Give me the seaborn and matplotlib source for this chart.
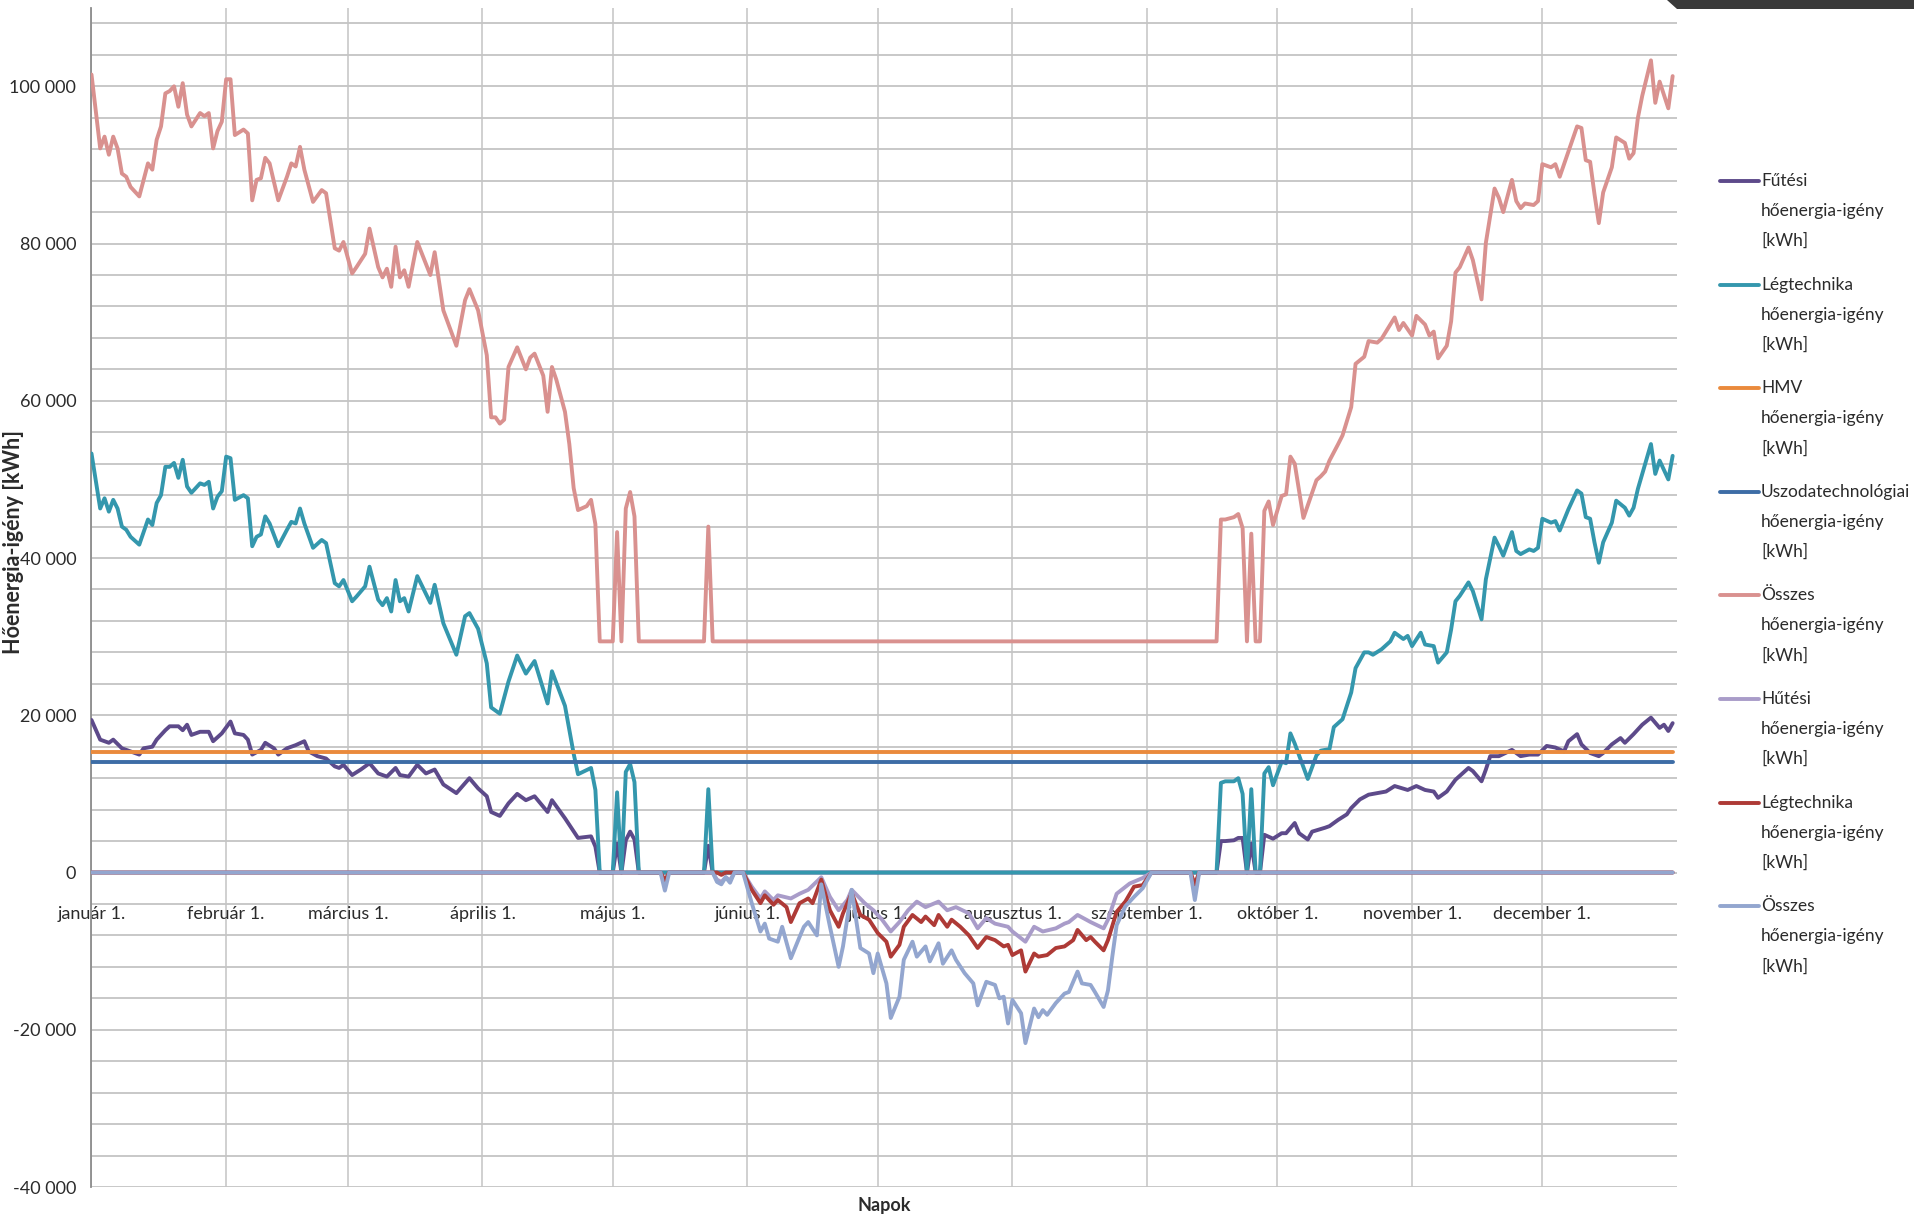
import matplotlib
matplotlib.use("Agg")
import matplotlib.pyplot as plt
from matplotlib.lines import Line2D
from matplotlib.patches import Polygon
import numpy as np
import pandas as pd
import seaborn as sns

# ---------------------------------------------------------------- data
# days of the year (0 = január 1.) and daily heat demand values [kWh]

futes_days = [0, 2, 3, 4, 5, 7, 9, 11, 12, 14, 15, 17, 18, 20, 21, 22, 23, 25, 26, 27,
              28, 30, 32, 33, 35, 36, 37, 39, 40, 42, 43, 45, 47, 49, 50, 52, 54, 56, 57, 58,
              60, 62, 64, 66, 68, 70, 71, 73, 75, 77, 79, 81, 84, 87, 89, 91, 92, 94, 96, 98,
              100, 102, 105, 106, 109, 112, 115, 116, 117, 120, 121, 122, 123, 124, 125, 126,
              141, 142, 143, 259, 260, 261, 263, 264, 265, 266, 267, 268, 269, 270, 272, 274,
              275, 277, 278, 280, 281, 284, 285, 287, 289, 290, 292, 294, 296, 298, 300, 303,
              305, 307, 309, 310, 312, 314, 317, 318, 320, 321, 322, 324, 327, 329, 331, 333,
              335, 337, 339, 340, 342, 343, 345, 347, 348, 350, 352, 353, 355, 357, 359, 361,
              362, 363, 364]
futes_vals = [19400, 16900, 16700, 16500, 16900, 15800, 15400, 15000, 15800, 16000, 16900,
              18100, 18600, 18600, 18100, 18800, 17500, 17900, 17900, 17900, 16700, 17700,
              19200, 17700, 17500, 16900, 15000, 15600, 16500, 15800, 15000, 15800, 16200,
              16700, 15400, 14800, 14500, 13500, 13300, 13700, 12400, 13100, 13900, 12600,
              12200, 13300, 12400, 12200, 13700, 12600, 13100, 11200, 10100, 12000, 10700,
              9700, 7700, 7200, 8800, 10000, 9200, 9700, 7700, 9200, 6900, 4400, 4600, 3300,
              0, 0, 3700, 0, 4100, 5200, 4200, 0, 0, 3400, 0, 0, 4000, 4000, 4100, 4400, 4400,
              0, 3700, 0, 0, 4800, 4300, 5000, 5000, 6300, 5000, 4200, 5200, 5700, 5900, 6700,
              7400, 8200, 9300, 9900, 10100, 10300, 11000, 10500, 11000, 10500, 10300, 9500,
              10300, 11800, 13300, 12900, 11600, 13100, 14800, 14800, 15600, 14800, 15000,
              15000, 16100, 15900, 15400, 16700, 17600, 16300, 15200, 14800, 15200, 16300,
              17100, 16500, 17600, 18800, 19700, 18400, 18800, 18000, 19000]

legt_days = [0, 2, 3, 4, 5, 6, 7, 8, 9, 11, 13, 14, 15, 16, 17, 18, 19, 20, 21, 22, 23, 25,
             26, 27, 28, 29, 30, 31, 32, 33, 35, 36, 37, 38, 39, 40, 41, 43, 45, 46, 47, 48,
             49, 51, 53, 54, 56, 57, 58, 60, 61, 63, 64, 66, 67, 68, 69, 70, 71, 72, 73, 75,
             78, 79, 81, 84, 86, 87, 89, 91, 92, 94, 96, 98, 100, 102, 105, 106, 109, 111,
             112, 115, 116, 117, 120, 121, 122, 123, 124, 125, 126, 141, 142, 143, 259, 260,
             261, 263, 264, 265, 266, 267, 268, 269, 270, 271, 272, 274, 275, 276, 277, 280,
             282, 283, 285, 286, 288, 290, 291, 293, 294, 295, 297, 299, 300, 302, 303, 304,
             306, 307, 309, 310, 312, 313, 314, 315, 317, 318, 320, 321, 323, 324, 325, 327,
             328, 329, 331, 332, 333, 334, 336, 337, 338, 340, 342, 343, 344, 345, 346, 347,
             348, 350, 351, 353, 354, 355, 356, 357, 359, 360, 361, 363, 364]
legt_vals = [53300, 46300, 47600, 45900, 47400, 46300, 44000, 43600, 42700, 41700, 44900,
             44200, 47000, 48000, 51600, 51600, 52100, 50200, 52500, 49100, 48300, 49500,
             49300, 49700, 46300, 47800, 48500, 52900, 52700, 47400, 48000, 47600, 41500,
             42700, 43000, 45300, 44400, 41500, 43600, 44600, 44400, 46300, 44400, 41300,
             42300, 41900, 36800, 36400, 37200, 34500, 35100, 36400, 38900, 34700, 34000,
             34900, 33200, 37200, 34500, 34900, 33200, 37700, 34300, 36600, 31700, 27700,
             32600, 33000, 31000, 26600, 21000, 20200, 24300, 27600, 25300, 26900, 21500,
             25600, 21200, 15100, 12500, 13300, 10500, 0, 0, 10200, 0, 12800, 13800, 11500,
             0, 0, 10600, 0, 0, 11400, 11600, 11600, 12000, 10000, 0, 10600, 0, 0, 12600,
             13400, 11100, 14100, 13900, 17700, 16400, 11900, 14900, 15500, 15700, 18500,
             19500, 22900, 26000, 28000, 28000, 27700, 28400, 29400, 30500, 29700, 30100,
             28800, 30500, 29000, 28800, 26700, 28000, 30900, 34500, 35200, 36900, 35800,
             32200, 37300, 42600, 41500, 40300, 43300, 40900, 40500, 41100, 40900, 41300,
             45000, 44500, 44700, 43500, 46200, 48600, 48200, 45200, 45000, 42000, 39400,
             42000, 44500, 47300, 46400, 45400, 46400, 48800, 50700, 54500, 50700, 52400,
             50000, 53000]

hmv_days = [0, 364]
hmv_vals = [15300, 15300]

uszoda_days = [0, 364]
uszoda_vals = [14100, 14100]

osszes_days = [0, 2, 3, 4, 5, 6, 7, 8, 9, 11, 13, 14, 15, 16, 17, 18, 19, 20, 21, 22, 23,
               25, 26, 27, 28, 29, 30, 31, 32, 33, 35, 36, 37, 38, 39, 40, 41, 43, 45, 46,
               47, 48, 49, 51, 53, 54, 56, 57, 58, 60, 61, 63, 64, 66, 67, 68, 69, 70, 71,
               72, 73, 75, 78, 79, 81, 84, 86, 87, 89, 91, 92, 93, 94, 95, 96, 98, 100, 101,
               102, 104, 105, 106, 107, 109, 110, 111, 112, 114, 115, 116, 117, 120, 121,
               122, 123, 124, 125, 126, 141, 142, 143, 259, 260, 261, 263, 264, 265, 266,
               267, 268, 269, 270, 271, 272, 274, 275, 276, 277, 279, 282, 283, 284, 285,
               287, 288, 290, 291, 293, 294, 296, 297, 298, 300, 301, 302, 304, 305, 307,
               308, 309, 310, 312, 313, 314, 315, 317, 318, 320, 321, 323, 324, 325, 327,
               328, 329, 330, 332, 333, 334, 336, 337, 338, 340, 342, 343, 344, 345, 346,
               347, 348, 350, 351, 353, 354, 355, 356, 357, 359, 360, 361, 363, 364]
osszes_vals = [101500, 92100, 93600, 91300, 93600, 92100, 88900, 88500, 87200, 86000,
               90200, 89400, 93200, 94900, 99100, 99400, 100000, 97400, 100400, 96400, 94900,
               96600, 96200, 96600, 92100, 94300, 95500, 100900, 100900, 93800, 94500, 94000,
               85500, 88100, 88300, 90900, 90200, 85500, 88500, 90200, 89800, 92300, 89400,
               85300, 86800, 86400, 79400, 79100, 80200, 76200, 77000, 78700, 81900, 77000,
               75700, 76800, 74500, 79600, 75700, 76600, 74500, 80200, 76000, 78900, 71500,
               67000, 72800, 74200, 71500, 65800, 57900, 57900, 57100, 57600, 64300, 66800,
               64000, 65500, 66000, 63200, 58600, 64300, 62700, 58600, 54500, 48900, 46100,
               46600, 47400, 44300, 29400, 29400, 43300, 29400, 46300, 48400, 45300, 29400,
               29400, 44000, 29400, 29400, 44900, 44900, 45200, 45600, 43800, 29400, 43100,
               29400, 29400, 46000, 47200, 44200, 47900, 48100, 52900, 52000, 45100, 49900,
               50400, 51000, 52400, 54500, 55600, 59200, 64700, 65600, 67600, 67400, 67900,
               68800, 70600, 69000, 69900, 68300, 70800, 69700, 68300, 68800, 65400, 67000,
               70100, 76300, 77000, 79500, 77900, 72900, 80100, 87000, 85800, 84000, 88100,
               85400, 84500, 85100, 84900, 85400, 90100, 89700, 90100, 88500, 91700, 94900,
               94700, 90600, 90400, 86300, 82600, 86500, 89700, 93500, 92800, 90800, 91500,
               96000, 98800, 103300, 97900, 100600, 97200, 101300]

hutes_days = [0, 131, 132, 133, 143, 144, 145, 146, 147, 148, 150, 152, 154, 155, 157, 158,
              161, 163, 165, 168, 170, 172, 174, 175, 178, 180, 182, 184, 186, 188, 190, 192,
              195, 197, 199, 202, 204, 206, 208, 211, 212, 215, 217, 219, 222, 224, 225, 227,
              230, 233, 234, 236, 239, 242, 244, 253, 254, 255, 364]
hutes_vals = [0, 0, -1200, 0, 0, -900, -1200, -600, -1000, 0, 0, -1800, -3300, -2400, -3500,
              -2900, -3300, -2700, -2200, -600, -3100, -4800, -3500, -2200, -3900, -4800,
              -6000, -7500, -6300, -4800, -3700, -4400, -3700, -4800, -4400, -5200, -7100,
              -5800, -6500, -6900, -7500, -8800, -6900, -7500, -7100, -6500, -6300, -5400,
              -6300, -7100, -6000, -2700, -1400, -700, 0, 0, -2000, 0, 0]

legt_hut_days = [0, 131, 132, 133, 144, 145, 146, 150, 152, 154, 155, 157, 158, 160, 161, 163,
                 165, 166, 168, 170, 172, 173, 175, 177, 179, 181, 183, 184, 186, 187, 189,
                 191, 192, 194, 195, 197, 198, 200, 202, 204, 206, 208, 210, 211, 212, 214,
                 215, 217, 218, 220, 222, 224, 226, 227, 229, 230, 231, 233, 234, 236, 238,
                 240, 242, 244, 253, 254, 255, 364]
legt_hut_vals = [0, 0, -1000, 0, 0, -300, 0, 0, -2200, -3900, -2900, -4100, -3500, -4400,
                 -6300, -3900, -3300, -3900, -900, -4800, -6900, -5200, -2600, -5400, -6000,
                 -7700, -8800, -10700, -9200, -6900, -5400, -6300, -5600, -6700, -5400, -6900,
                 -6000, -6900, -8000, -9600, -8200, -8600, -9400, -9200, -10500, -9900,
                 -12600, -10300, -10700, -10500, -9600, -9400, -8600, -7300, -8600, -8200,
                 -8800, -9900, -8600, -5000, -3700, -1800, -1600, 0, 0, -1500, 0, 0]

osszes_hut_days = [0, 131, 132, 133, 143, 144, 145, 146, 147, 148, 150, 152, 154, 155, 156,
                   158, 159, 161, 163, 164, 165, 167, 168, 170, 172, 173, 175, 177, 179, 180,
                   181, 183, 184, 186, 187, 189, 190, 192, 193, 195, 196, 198, 199, 201, 203,
                   204, 206, 208, 209, 210, 211, 212, 214, 215, 217, 218, 219, 220, 222, 224,
                   225, 227, 228, 230, 231, 233, 234, 235, 236, 238, 240, 242, 244, 253, 254,
                   255, 364]
osszes_hut_vals = [0, 0, -2300, 0, 0, -1200, -1500, -600, -1300, 0, 0, -3900, -7500, -6500,
                   -8400, -8800, -6900, -10900, -8200, -6900, -6300, -8000, -1500, -6900,
                   -12000, -9400, -2200, -9600, -10300, -12800, -10300, -14100, -18500,
                   -15800, -11100, -8800, -10700, -9400, -11300, -9000, -11600, -9900,
                   -11100, -12800, -14100, -16900, -13900, -14300, -16000, -15800, -19200,
                   -16200, -17900, -21700, -17300, -18400, -17500, -18100, -16600, -15400,
                   -15200, -12600, -14100, -14300, -15200, -17100, -15000, -10700, -6700,
                   -4300, -3100, -2000, 0, 0, -3500, 0, 0]

series_keys = ["futes", "legt", "hmv", "uszoda", "osszes", "hutes", "legt_hut", "osszes_hut"]
series_labels = ["Fűtési", "Légtechnika", "HMV", "Uszodatechnológiai", "Összes",
                 "Hűtési", "Légtechnika", "Összes"]
series_colors = ["#5d4a8a", "#3497ad", "#ea8a3c", "#3d6da6", "#d9918f",
                 "#a99cc9", "#ae3a36", "#93a6cf"]

month_days = [0, 31, 59, 90, 120, 151, 181, 212, 243, 273, 304, 334]
month_labels = ["január 1.", "február 1.", "március 1.", "április 1.", "május 1.",
                "június 1.", "július 1.", "augusztus 1.", "szeptember 1.", "október 1.",
                "november 1.", "december 1."]

# ---------------------------------------------------------------- table
series_data = {
    "futes": (futes_days, futes_vals),
    "legt": (legt_days, legt_vals),
    "hmv": (hmv_days, hmv_vals),
    "uszoda": (uszoda_days, uszoda_vals),
    "osszes": (osszes_days, osszes_vals),
    "hutes": (hutes_days, hutes_vals),
    "legt_hut": (legt_hut_days, legt_hut_vals),
    "osszes_hut": (osszes_hut_days, osszes_hut_vals),
}
frames = []
for key in series_keys:
    d, v = series_data[key]
    frames.append(pd.DataFrame({"nap": d, "kwh": v, "sorozat": key}))
df = pd.concat(frames, ignore_index=True)

# ---------------------------------------------------------------- style
sns.set_style("white")
plt.rcParams["font.family"] = ["Lato", "DejaVu Sans"]
text_color = "#2b2b2b"
grid_color = "#c4c4c4"

W, H = 1915, 1219
fig = plt.figure(figsize=(W / 100, H / 100), dpi=100)
ax_left, ax_right, ax_top, ax_bottom = 91.5, 1677, 7.7, 1187
ax = fig.add_axes([ax_left / W, 1 - ax_bottom / H,
                   (ax_right - ax_left) / W, (ax_bottom - ax_top) / H])

sns.lineplot(data=df, x="nap", y="kwh", hue="sorozat", hue_order=series_keys,
             palette=dict(zip(series_keys, series_colors)), estimator=None,
             linewidth=2.8, legend=False, ax=ax, zorder=3)

ax.set_xlim(0, 365)
ax.set_ylim(-40000, 110000)

# y axis: labels every 20 000, grid every 4 000
ax.set_yticks(np.arange(-40000, 100001, 20000))
ax.set_yticks(np.arange(-40000, 108001, 4000), minor=True)
ax.set_yticklabels([f"{int(v):,}".replace(",", " ") for v in np.arange(-40000, 100001, 20000)],
                   fontsize=13, color=text_color)
ax.tick_params(axis="y", which="major", length=4, width=1, color="#8c8c8c",
               direction="out", pad=7)
ax.tick_params(axis="y", which="minor", length=0)

# x axis crosses at zero; month labels hang below it
ax.spines["bottom"].set_position(("data", 0))
ax.spines["bottom"].set_visible(False)
ax.spines["top"].set_visible(False)
ax.spines["right"].set_visible(False)
ax.spines["left"].set_color("#8c8c8c")
ax.spines["left"].set_linewidth(1.3)
ax.set_xticks(month_days)
ax.set_xticklabels(month_labels, fontsize=13, color=text_color)
ax.tick_params(axis="x", length=0, pad=24)

ax.grid(True, axis="y", which="both", color=grid_color, linewidth=1.3, zorder=0)
ax.grid(True, axis="x", which="major", color=grid_color, linewidth=1.1, zorder=0)
ax.set_axisbelow(True)

ax.set_xlabel("")
ax.set_ylabel("Hőenergia-igény [kWh]", fontsize=15.5, fontweight="bold", color=text_color)
ax.yaxis.set_label_coords((14 - ax_left) / (ax_right - ax_left),
                          (ax_bottom - 542) / (ax_bottom - ax_top))
ax.yaxis.label.set_verticalalignment("center")
ax.text(0.5, (ax_bottom - 1206) / (ax_bottom - ax_top), "Napok", transform=ax.transAxes,
        ha="center", va="center", fontsize=13, fontweight="bold", color=text_color)

# legend on the right, one three-line entry per series
first_line_y = 181
entry_step = 103.6
line_step = 30
for i, (lab, col) in enumerate(zip(series_labels, series_colors)):
    y0 = first_line_y + i * entry_step
    fig.add_artist(Line2D([1720 / W, 1759 / W], [1 - y0 / H, 1 - y0 / H],
                          transform=fig.transFigure, color=col, linewidth=2.8))
    for j, txt in enumerate([lab, "hőenergia-igény", "[kWh]"]):
        fig.text(1761 / W, 1 - (y0 + j * line_step) / H, txt, ha="left", va="center",
                 fontsize=12.5, color=text_color)

# dark tab in the top right corner
fig.add_artist(Polygon([(1667 / W, 1.0), (1.0, 1.0), (1.0, 1 - 9 / H), (1677 / W, 1 - 9 / H)],
                       closed=True, transform=fig.transFigure, facecolor="#3a3a3a",
                       edgecolor="none"))

fig.savefig("out.png", dpi=100)
